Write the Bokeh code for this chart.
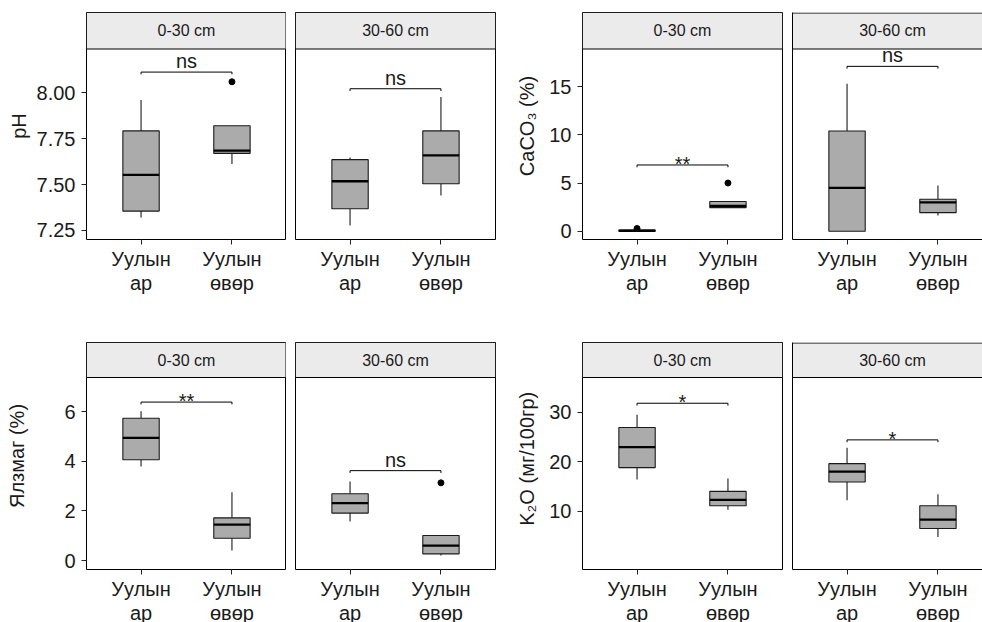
from bokeh.plotting import figure
from bokeh.models import Range1d, FixedTicker, LinearAxis, PrintfTickFormatter
from bokeh.layouts import row, column
from bokeh.embed import file_html
from bokeh.resources import INLINE
from bokeh.core.properties import value

# ---------------- data ----------------
sites = ["Уулын\nар", "Уулын\nөвөр"]
depths = ["0-30 cm", "30-60 cm"]

# per site: [lower whisker, Q1, median, Q3, upper whisker]
ph_0_30 = [[7.32, 7.355, 7.553, 7.793, 7.962], [7.612, 7.670, 7.685, 7.821, 7.821]]
ph_30_60 = [[7.277, 7.368, 7.518, 7.636, 7.648], [7.440, 7.504, 7.659, 7.793, 7.978]]
ph_out_site = [[2], []]
ph_out_val = [[8.061], []]
ph_sig = ["ns", "ns"]
ph_sig_y = [8.114, 8.023]
ph_ticks = [7.25, 7.50, 7.75, 8.00]

caco3_0_30 = [[0.0, 0.0, 0.05, 0.12, 0.12], [2.45, 2.45, 2.62, 3.08, 3.08]]
caco3_30_60 = [[0.0, 0.0, 4.49, 10.4, 15.3], [1.62, 1.93, 3.0, 3.31, 4.73]]
caco3_out_site = [[1, 2], []]
caco3_out_val = [[0.28, 5.0], []]
caco3_sig = ["**", "ns"]
caco3_sig_y = [6.87, 17.1]
caco3_ticks = [0, 5, 10, 15]

humus_0_30 = [[3.79, 4.06, 4.94, 5.73, 6.01], [0.40, 0.90, 1.45, 1.72, 2.75]]
humus_30_60 = [[1.57, 1.91, 2.31, 2.69, 3.18], [0.20, 0.27, 0.60, 1.01, 1.01]]
humus_out_site = [[], [2]]
humus_out_val = [[], [3.13]]
humus_sig = ["**", "ns"]
humus_sig_y = [6.38, 3.62]
humus_ticks = [0, 2, 4, 6]

k2o_0_30 = [[16.4, 18.8, 22.95, 26.9, 29.5], [10.3, 11.1, 12.3, 14.0, 16.6]]
k2o_30_60 = [[12.2, 15.9, 18.0, 19.6, 22.8], [4.8, 6.5, 8.3, 11.1, 13.4]]
k2o_out_site = [[], []]
k2o_out_val = [[], []]
k2o_sig = ["*", "*"]
k2o_sig_y = [31.8, 24.4]
k2o_ticks = [10, 20, 30]

# ---------------- style ----------------
FONT = "Liberation Sans"
BOX_FILL = "#ABABAB"
STRIP_FILL = "#EBEBEB"
FRAME_H = 227
X0, X1 = 0.4, 2.6
BOX_W = 0.4
TXT = "#1a1a1a"


def facet(stats, out_site, out_val, sig, sig_y, depth, yrange, ticks, fmt,
          frame_w, mb_left, mb_right, mb_top, mb_bottom, strip_h,
          yaxis_mode, ylabel=None, label_standoff=4, clipped=False):
    ymin, ymax = yrange
    data_h = FRAME_H - strip_h
    yend = ymin + (ymax - ymin) * FRAME_H / data_h
    xend = X0 + (X1 - X0) * frame_w / 200.0
    p = figure(frame_width=frame_w, frame_height=FRAME_H, output_backend="svg",
               toolbar_location=None,
               x_range=Range1d(X0, xend), y_range=Range1d(ymin, yend),
               x_axis_location=None, y_axis_location=None, title=None,
               min_border_left=mb_left, min_border_right=mb_right,
               min_border_top=mb_top, min_border_bottom=mb_bottom)
    p.grid.visible = False
    p.background_fill_color = "white"
    p.border_fill_color = "white"
    p.outline_line_color = None if clipped else "black"
    p.outline_line_width = 1
    p.extra_y_ranges = {"strip": Range1d(0, FRAME_H)}

    # strip
    p.quad(left=[X0], right=[X1], bottom=[data_h], top=[FRAME_H - (0.5 if clipped else 0)],
           y_range_name="strip", fill_color=STRIP_FILL, line_color="black", line_width=1)
    p.text(x=[(X0 + X1) / 2], y=[data_h + strip_h / 2], text=[depth], y_range_name="strip",
           text_align="center", text_baseline="middle", text_font=value(FONT),
           text_font_size="16px", text_color=TXT)

    xs = [i + 1 for i in range(len(stats))]
    lo = [s[0] for s in stats]
    q1 = [s[1] for s in stats]
    med = [s[2] for s in stats]
    q3 = [s[3] for s in stats]
    hi = [s[4] for s in stats]

    p.segment(x0=xs, x1=xs, y0=q3, y1=hi, line_color=TXT, line_width=1.1)
    p.segment(x0=xs, x1=xs, y0=lo, y1=q1, line_color=TXT, line_width=1.1)
    p.vbar(x=xs, width=BOX_W, bottom=q1, top=q3, fill_color=BOX_FILL,
           line_color=TXT, line_width=1.1)
    p.segment(x0=[x - BOX_W / 2 for x in xs], x1=[x + BOX_W / 2 for x in xs], y0=med, y1=med,
              line_color="black", line_width=2.3)
    if out_site:
        p.scatter(x=out_site, y=out_val, size=6, color="black")

    # significance bracket
    tip = (ymax - ymin) * 0.012
    p.segment(x0=[xs[0]], x1=[xs[-1]], y0=[sig_y], y1=[sig_y], line_color="black", line_width=1)
    p.segment(x0=[xs[0], xs[-1]], x1=[xs[0], xs[-1]], y0=[sig_y, sig_y],
              y1=[sig_y - tip, sig_y - tip], line_color="black", line_width=1)
    p.text(x=[(xs[0] + xs[-1]) / 2], y=[sig_y], text=[sig], text_align="center",
           text_baseline="alphabetic", y_offset=(-11 if sig == "ns" else -1),
           text_font=value(FONT), text_font_size="20px", text_color=TXT)

    # x axis
    xa = LinearAxis(ticker=FixedTicker(ticks=xs),
                    major_label_overrides={x: s for x, s in zip(xs, sites)})
    xa.axis_line_color = "black" if clipped else None
    xa.major_tick_line_color = "#222222"
    xa.major_tick_in = 0
    xa.major_tick_out = 5
    xa.minor_tick_line_color = None
    xa.minor_tick_out = 0
    xa.minor_tick_in = 0
    xa.major_label_standoff = 3
    xa.major_label_text_font = FONT
    xa.major_label_text_font_size = "20px"
    xa.major_label_text_color = TXT
    xa.major_label_text_line_height = 1.12
    p.add_layout(xa, "below")

    if yaxis_mode == "full":
        ya = LinearAxis(ticker=FixedTicker(ticks=ticks),
                        formatter=PrintfTickFormatter(format=fmt))
        ya.axis_line_color = None
        ya.major_tick_line_color = "#222222"
        ya.major_tick_in = 0
        ya.major_tick_out = 5
        ya.minor_tick_line_color = None
        ya.minor_tick_out = 0
        ya.minor_tick_in = 0
        ya.major_label_standoff = 6
        ya.major_label_text_font = FONT
        ya.major_label_text_font_size = "20px"
        ya.major_label_text_color = TXT
        ya.axis_label = ylabel
        ya.axis_label_text_font = FONT
        ya.axis_label_text_font_size = "20px"
        ya.axis_label_text_font_style = "normal"
        ya.axis_label_text_color = TXT
        ya.axis_label_standoff = label_standoff
        p.add_layout(ya, "left")
    elif yaxis_mode == "line":
        ya = LinearAxis(ticker=FixedTicker(ticks=[]))
        ya.axis_line_color = "black"
        ya.major_tick_line_color = None
        ya.minor_tick_line_color = None
        ya.major_tick_in = 0
        ya.major_tick_out = 0
        ya.minor_tick_in = 0
        ya.minor_tick_out = 0
        ya.major_label_standoff = 0
        p.add_layout(ya, "left")
    return p


TOP = dict(mb_top=12, mb_bottom=64, strip_h=36.5)
BOT = dict(mb_top=39, mb_bottom=53, strip_h=35)

pA = facet(ph_0_30, ph_out_site[0], ph_out_val[0], ph_sig[0], ph_sig_y[0], depths[0],
           (7.20, 8.24), ph_ticks, "%.2f", 199, mb_left=86, mb_right=5, yaxis_mode="full",
           ylabel="pH", label_standoff=4, **TOP)
pB = facet(ph_30_60, ph_out_site[1], ph_out_val[1], ph_sig[1], ph_sig_y[1], depths[1],
           (7.20, 8.24), ph_ticks, "%.2f", 200, mb_left=5, mb_right=2, yaxis_mode="none", **TOP)
pC = facet(caco3_0_30, caco3_out_site[0], caco3_out_val[0], caco3_sig[0], caco3_sig_y[0], depths[0],
           (-0.86, 18.9), caco3_ticks, "%d", 200, mb_left=85, mb_right=5, yaxis_mode="full",
           ylabel="CaCO₃ (%)", label_standoff=8, **TOP)
pD = facet(caco3_30_60, caco3_out_site[1], caco3_out_val[1], caco3_sig[1], caco3_sig_y[1], depths[1],
           (-0.86, 18.9), caco3_ticks, "%d", 190, mb_left=5, mb_right=0, yaxis_mode="line",
           clipped=True, **TOP)

pE = facet(humus_0_30, humus_out_site[0], humus_out_val[0], humus_sig[0], humus_sig_y[0], depths[0],
           (-0.36, 7.37), humus_ticks, "%d", 199, mb_left=86, mb_right=5, yaxis_mode="full",
           ylabel="Ялзмаг (%)", label_standoff=33, **BOT)
pF = facet(humus_30_60, humus_out_site[1], humus_out_val[1], humus_sig[1], humus_sig_y[1], depths[1],
           (-0.36, 7.37), humus_ticks, "%d", 200, mb_left=5, mb_right=2, yaxis_mode="none", **BOT)
pG = facet(k2o_0_30, k2o_out_site[0], k2o_out_val[0], k2o_sig[0], k2o_sig_y[0], depths[0],
           (-1.78, 37.0), k2o_ticks, "%d", 200, mb_left=85, mb_right=5, yaxis_mode="full",
           ylabel="K₂O  (мг/100гр)", label_standoff=8, **BOT)
pH_ = facet(k2o_30_60, k2o_out_site[1], k2o_out_val[1], k2o_sig[1], k2o_sig_y[1], depths[1],
            (-1.78, 37.0), k2o_ticks, "%d", 190, mb_left=5, mb_right=0, yaxis_mode="line",
            clipped=True, **BOT)

p = column(row(pA, pB, pC, pD), row(pE, pF, pG, pH_),
           width=982, height=622, styles={"overflow": "hidden"})

open("out.html", "w").write(file_html(p, INLINE))
